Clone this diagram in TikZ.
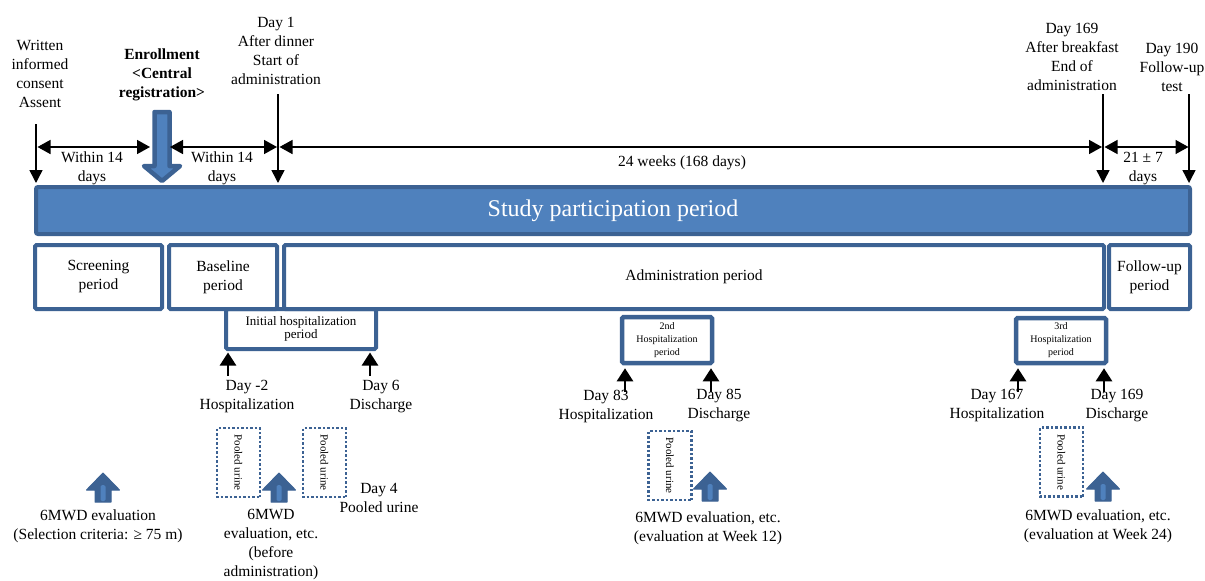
\documentclass[tikz,border=0pt]{standalone}
\usepackage{fontspec}
\setmainfont{Liberation Serif}
\usetikzlibrary{arrows.meta}
\definecolor{barblue}{HTML}{4F81BD}
\definecolor{edgeblue}{HTML}{3C6293}
\tikzset{
 txt/.style={inner sep=0pt, align=center, font=\fontsize{15.5}{19}\selectfont},
 bar/.style={draw=edgeblue, fill=barblue, line width=4pt, rounded corners=2pt,
   minimum width=1154pt, minimum height=47pt, text=white, font=\fontsize{24}{24}\selectfont},
 period/.style={draw=edgeblue, fill=white, line width=4pt, rounded corners=1.5pt,
   inner sep=0pt, align=center, font=\fontsize{15.5}{19}\selectfont},
 hospbox/.style={period, line width=4.5pt, font=\fontsize{10}{13}\selectfont},
 downarr/.style={-{Triangle[length=13pt,width=13pt]}, line width=1.5pt},
 spanarr/.style={{Triangle[length=13pt,width=14pt]}-{Triangle[length=13pt,width=14pt]}, line width=1.5pt},
 uparr/.style={-{Triangle[length=13pt,width=16pt]}, line width=2.5pt},
 urine/.style={draw=edgeblue, line width=2.5pt, dash pattern=on 2.5pt off 2pt,
   minimum width=69pt, minimum height=43pt, rotate=-90, inner sep=0pt, font=\fontsize{11}{12}\selectfont},
 blockarr/.style={fill=barblue, draw=edgeblue, line width=3pt, line join=round},
 upblock/.pic={
   \filldraw[fill=edgeblue, draw=edgeblue, line width=1pt, line join=round] (0,0) -- (16.5,17) -- (8,17) -- (8,29) -- (-8,29) -- (-8,17) -- (-16.5,17) -- cycle;
   \fill[barblue, rounded corners=1.5pt] (-2.5,28) rectangle (2.5,12);}
}
\begin{document}
\begin{tikzpicture}[x=1pt,y=-1pt]
 \useasboundingbox (0,0) rectangle (1205,581);
 % main bar
 \node[bar] (bar) at (613,210.5) {Study participation period};
 %
 \node[period, minimum width=150pt, minimum height=40pt, font=\fontsize{13}{13}\selectfont] (inith) at (301,329) {Initial hospitalization\\period};
 \node[period, minimum width=127pt, minimum height=64pt] (screen) at (98.5,277) {Screening\\period};
 \node[period, minimum width=108pt, minimum height=64pt] (base) at (223,277) {Baseline\\period};
 \node[period, minimum width=820pt, minimum height=64pt] (admin) at (694,277) {Administration period};
 \node[period, minimum width=81pt, minimum height=64pt] (follow) at (1149.5,277) {Follow-up\\period};
 \node[hospbox, minimum width=90pt, minimum height=46pt] (hosp2) at (667,340) {2nd\\Hospitalization\\period};
 \node[hospbox, minimum width=90pt, minimum height=45pt] (hosp3) at (1061,340.5) {3rd\\Hospitalization\\period};
 %
 \node[txt] (consent) at (40,74) {Written\\informed\\consent\\Assent};
 \node[txt, font=\fontsize{15.5}{19}\selectfont\bfseries] (enroll) at (162,75) {Enrollment\\<Central\\registration>};
 \node[txt] (day1) at (276,51) {Day 1\\After dinner\\Start of\\administration};
 \node[txt] (day169) at (1072,57) {Day 169\\After breakfast\\End of\\administration};
 \node[txt] (day190) at (1172,67) {Day 190\\Follow-up\\test};
 %
 \coordinate (consentTop) at (36,124);
 \coordinate (enrollTop) at (162,112);
 \coordinate (day1Top) at (278,94);
 \coordinate (day169Top) at (1103,94);
 \coordinate (day190Top) at (1189,94);
 \coordinate (spanY) at (0,147);
 %
 \draw[downarr, shorten >=2pt] (consentTop) -- (consentTop |- bar.north);
 \draw[downarr, shorten >=2pt] (day1Top) -- (day1Top |- bar.north);
 \draw[downarr, shorten >=2pt] (day169Top) -- (day169Top |- bar.north);
 \draw[downarr, shorten >=2pt] (day190Top) -- (day190Top |- bar.north);
 \filldraw[blockarr, line width=4.5pt] (154.5,112) -- (169.5,112) -- (169.5,166) -- (180,166) -- (162,181) -- (144,166) -- (154.5,166) -- cycle;
 %
 \draw[spanarr] ([xshift=1.5pt]consentTop |- spanY) -- ([xshift=-12pt]enrollTop |- spanY);
 \draw[spanarr] ([xshift=8pt]enrollTop |- spanY) -- ([xshift=-1pt]day1Top |- spanY);
 \draw[spanarr] ([xshift=1.5pt]day1Top |- spanY) -- ([xshift=-1pt]day169Top |- spanY);
 \draw[spanarr] ([xshift=1.5pt]day169Top |- spanY) -- ([xshift=-0.5pt]day190Top |- spanY);
 \node[txt] (within1) at (92,168) {Within 14\\days};
 \node[txt] (within2) at (222,168) {Within 14\\days};
 \node[txt] (weeks) at (682,163) {24 weeks (168 days)};
 \node[txt] (plusminus) at (1143,169) {21 ± 7\\days};
 %
 \coordinate (dm2) at (228,376);
 \coordinate (d6) at (370,376);
 \coordinate (d83) at (625,392);
 \coordinate (d85) at (711,392);
 \coordinate (d167) at (1018,392);
 \coordinate (d169) at (1104,392);
 \draw[uparr, shorten >=1.5pt] (dm2) -- (dm2 |- inith.south);
 \draw[uparr, shorten >=1.5pt] (d6) -- (d6 |- inith.south);
 \draw[uparr, shorten >=3pt] (d83) -- (d83 |- hosp2.south);
 \draw[uparr, shorten >=3pt] (d85) -- (d85 |- hosp2.south);
 \draw[uparr, shorten >=3pt] (d167) -- (d167 |- hosp3.south);
 \draw[uparr, shorten >=3pt] (d169) -- (d169 |- hosp3.south);
 \node[txt] (dm2txt) at (247,397) {Day -2\\Hospitalization};
 \node[txt] (d6txt) at (381,397) {Day 6\\Discharge};
 \node[txt] (d83txt) at (606,406) {Day 83\\Hospitalization};
 \node[txt] (d85txt) at (719,406) {Day 85\\Discharge};
 \node[txt] (d167txt) at (997,406) {Day 167\\Hospitalization};
 \node[txt] (d169txt) at (1117,406) {Day 169\\Discharge};
 %
 \node[urine] (pu1) at (238.5,462.5) {Pooled urine};
 \node[urine] (pu2) at (324.5,462.5) {Pooled urine};
 \node[urine] (pu3) at (670,465.5) {Pooled urine};
 \node[urine] (pu4) at (1061.5,462) {Pooled urine};
 \node[txt] (day4) at (379,497.5) {Day 4\\Pooled urine};
 %
 \pic at (103,473) {upblock};
 \pic at (279,473) {upblock};
 \pic at (710,472) {upblock};
 \pic at (1103,472) {upblock};
 \node[txt] (eval0) at (98,526.5) {6MWD evaluation\\(Selection criteria: ≥ 75 m)};
 \node[txt] (eval1) at (271,545) {6MWD\\evaluation, etc.\\(before\\administration)};
 \node[txt] (eval2) at (708,528) {6MWD evaluation, etc.\\(evaluation at Week 12)};
 \node[txt] (eval3) at (1098,526.5) {6MWD evaluation, etc.\\(evaluation at Week 24)};
\end{tikzpicture}
\end{document}
